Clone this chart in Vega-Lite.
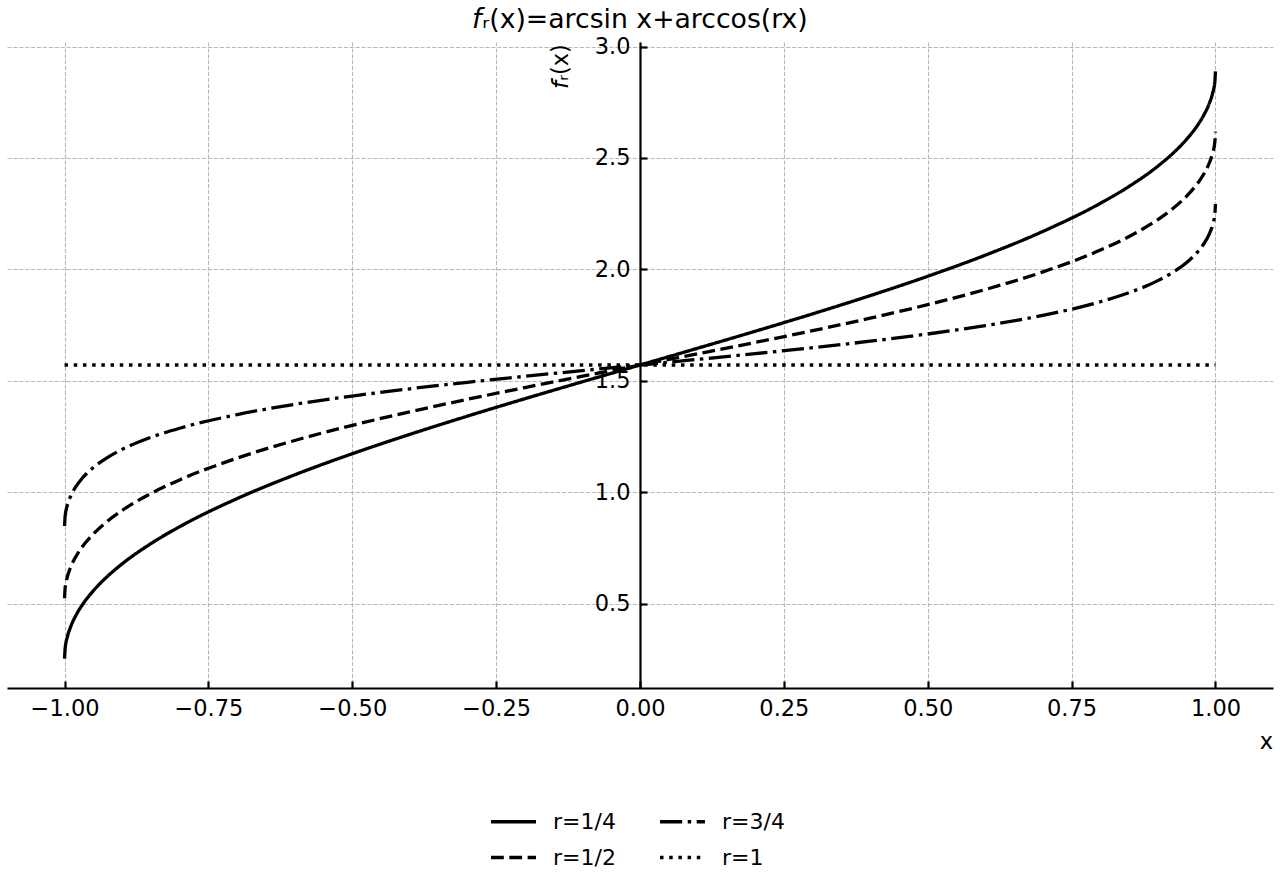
{
  "$schema": "https://vega.github.io/schema/vega-lite/v6.json",
  "width": 1266,
  "height": 646,
  "autosize": {"type": "none"},
  "padding": {"left": 7, "top": 42, "right": 7, "bottom": 192},
  "background": "white",
  "config": {
    "font": "DejaVu Sans",
    "view": {"stroke": null}
  },
  "title": {
    "text": "𝘧ᵣ(x)=arcsin x+arccos(rx)",
    "font": "DejaVu Sans",
    "fontSize": 26.7,
    "fontWeight": "normal",
    "color": "black",
    "anchor": "middle",
    "frame": "group",
    "baseline": "alphabetic",
    "offset": -19
  },
  "data": {
    "values": [
      {"x": -1, "y": 0.2527, "r": "r=1/4"},
      {"x": -0.999, "y": 0.2971, "r": "r=1/4"},
      {"x": -0.995, "y": 0.3516, "r": "r=1/4"},
      {"x": -0.99, "y": 0.3916, "r": "r=1/4"},
      {"x": -0.98, "y": 0.4479, "r": "r=1/4"},
      {"x": -0.97, "y": 0.4905, "r": "r=1/4"},
      {"x": -0.95, "y": 0.5573, "r": "r=1/4"},
      {"x": -0.925, "y": 0.6231, "r": "r=1/4"},
      {"x": -0.9, "y": 0.678, "r": "r=1/4"},
      {"x": -0.85, "y": 0.7689, "r": "r=1/4"},
      {"x": -0.8, "y": 0.8449, "r": "r=1/4"},
      {"x": -0.7, "y": 0.9713, "r": "r=1/4"},
      {"x": -0.6, "y": 1.0779, "r": "r=1/4"},
      {"x": -0.5, "y": 1.1725, "r": "r=1/4"},
      {"x": -0.4, "y": 1.2594, "r": "r=1/4"},
      {"x": -0.3, "y": 1.3412, "r": "r=1/4"},
      {"x": -0.2, "y": 1.4195, "r": "r=1/4"},
      {"x": -0.1, "y": 1.4956, "r": "r=1/4"},
      {"x": 0, "y": 1.5708, "r": "r=1/4"},
      {"x": 0.1, "y": 1.646, "r": "r=1/4"},
      {"x": 0.2, "y": 1.7221, "r": "r=1/4"},
      {"x": 0.3, "y": 1.8004, "r": "r=1/4"},
      {"x": 0.4, "y": 1.8822, "r": "r=1/4"},
      {"x": 0.5, "y": 1.9691, "r": "r=1/4"},
      {"x": 0.6, "y": 2.0637, "r": "r=1/4"},
      {"x": 0.7, "y": 2.1703, "r": "r=1/4"},
      {"x": 0.8, "y": 2.2967, "r": "r=1/4"},
      {"x": 0.85, "y": 2.3727, "r": "r=1/4"},
      {"x": 0.9, "y": 2.4636, "r": "r=1/4"},
      {"x": 0.925, "y": 2.5185, "r": "r=1/4"},
      {"x": 0.95, "y": 2.5843, "r": "r=1/4"},
      {"x": 0.97, "y": 2.6511, "r": "r=1/4"},
      {"x": 0.98, "y": 2.6937, "r": "r=1/4"},
      {"x": 0.99, "y": 2.75, "r": "r=1/4"},
      {"x": 0.995, "y": 2.79, "r": "r=1/4"},
      {"x": 0.999, "y": 2.8445, "r": "r=1/4"},
      {"x": 1, "y": 2.8889, "r": "r=1/4"},

      {"x": -1, "y": 0.5236, "r": "r=1/2"},
      {"x": -0.999, "y": 0.5678, "r": "r=1/2"},
      {"x": -0.995, "y": 0.6209, "r": "r=1/2"},
      {"x": -0.99, "y": 0.6594, "r": "r=1/2"},
      {"x": -0.98, "y": 0.7124, "r": "r=1/2"},
      {"x": -0.97, "y": 0.752, "r": "r=1/2"},
      {"x": -0.95, "y": 0.8125, "r": "r=1/2"},
      {"x": -0.925, "y": 0.8706, "r": "r=1/2"},
      {"x": -0.9, "y": 0.9178, "r": "r=1/2"},
      {"x": -0.85, "y": 0.9938, "r": "r=1/2"},
      {"x": -0.8, "y": 1.055, "r": "r=1/2"},
      {"x": -0.7, "y": 1.153, "r": "r=1/2"},
      {"x": -0.6, "y": 1.232, "r": "r=1/2"},
      {"x": -0.5, "y": 1.2999, "r": "r=1/2"},
      {"x": -0.4, "y": 1.3606, "r": "r=1/2"},
      {"x": -0.3, "y": 1.4167, "r": "r=1/2"},
      {"x": -0.2, "y": 1.4696, "r": "r=1/2"},
      {"x": -0.1, "y": 1.5206, "r": "r=1/2"},
      {"x": 0, "y": 1.5708, "r": "r=1/2"},
      {"x": 0.1, "y": 1.621, "r": "r=1/2"},
      {"x": 0.2, "y": 1.672, "r": "r=1/2"},
      {"x": 0.3, "y": 1.7249, "r": "r=1/2"},
      {"x": 0.4, "y": 1.781, "r": "r=1/2"},
      {"x": 0.5, "y": 1.8417, "r": "r=1/2"},
      {"x": 0.6, "y": 1.9096, "r": "r=1/2"},
      {"x": 0.7, "y": 1.9886, "r": "r=1/2"},
      {"x": 0.8, "y": 2.0866, "r": "r=1/2"},
      {"x": 0.85, "y": 2.1478, "r": "r=1/2"},
      {"x": 0.9, "y": 2.2238, "r": "r=1/2"},
      {"x": 0.925, "y": 2.271, "r": "r=1/2"},
      {"x": 0.95, "y": 2.3291, "r": "r=1/2"},
      {"x": 0.97, "y": 2.3896, "r": "r=1/2"},
      {"x": 0.98, "y": 2.4292, "r": "r=1/2"},
      {"x": 0.99, "y": 2.4822, "r": "r=1/2"},
      {"x": 0.995, "y": 2.5207, "r": "r=1/2"},
      {"x": 0.999, "y": 2.5738, "r": "r=1/2"},
      {"x": 1, "y": 2.618, "r": "r=1/2"},

      {"x": -1, "y": 0.8481, "r": "r=3/4"},
      {"x": -0.999, "y": 0.8916, "r": "r=3/4"},
      {"x": -0.995, "y": 0.9426, "r": "r=3/4"},
      {"x": -0.99, "y": 0.9783, "r": "r=3/4"},
      {"x": -0.98, "y": 1.026, "r": "r=3/4"},
      {"x": -0.97, "y": 1.0602, "r": "r=3/4"},
      {"x": -0.95, "y": 1.1106, "r": "r=3/4"},
      {"x": -0.925, "y": 1.1565, "r": "r=3/4"},
      {"x": -0.9, "y": 1.192, "r": "r=3/4"},
      {"x": -0.85, "y": 1.2461, "r": "r=3/4"},
      {"x": -0.8, "y": 1.287, "r": "r=3/4"},
      {"x": -0.7, "y": 1.3481, "r": "r=3/4"},
      {"x": -0.6, "y": 1.3941, "r": "r=3/4"},
      {"x": -0.5, "y": 1.4316, "r": "r=3/4"},
      {"x": -0.4, "y": 1.464, "r": "r=3/4"},
      {"x": -0.3, "y": 1.493, "r": "r=3/4"},
      {"x": -0.2, "y": 1.52, "r": "r=3/4"},
      {"x": -0.1, "y": 1.5457, "r": "r=3/4"},
      {"x": 0, "y": 1.5708, "r": "r=3/4"},
      {"x": 0.1, "y": 1.5959, "r": "r=3/4"},
      {"x": 0.2, "y": 1.6216, "r": "r=3/4"},
      {"x": 0.3, "y": 1.6486, "r": "r=3/4"},
      {"x": 0.4, "y": 1.6776, "r": "r=3/4"},
      {"x": 0.5, "y": 1.71, "r": "r=3/4"},
      {"x": 0.6, "y": 1.7475, "r": "r=3/4"},
      {"x": 0.7, "y": 1.7935, "r": "r=3/4"},
      {"x": 0.8, "y": 1.8546, "r": "r=3/4"},
      {"x": 0.85, "y": 1.8955, "r": "r=3/4"},
      {"x": 0.9, "y": 1.9496, "r": "r=3/4"},
      {"x": 0.925, "y": 1.9851, "r": "r=3/4"},
      {"x": 0.95, "y": 2.031, "r": "r=3/4"},
      {"x": 0.97, "y": 2.0814, "r": "r=3/4"},
      {"x": 0.98, "y": 2.1156, "r": "r=3/4"},
      {"x": 0.99, "y": 2.1633, "r": "r=3/4"},
      {"x": 0.995, "y": 2.199, "r": "r=3/4"},
      {"x": 0.999, "y": 2.25, "r": "r=3/4"},
      {"x": 1, "y": 2.2935, "r": "r=3/4"},

      {"x": -1, "y": 1.5708, "r": "r=1"},
      {"x": 1, "y": 1.5708, "r": "r=1"}
    ]
  },
  "mark": {"type": "line", "interpolate": "monotone", "color": "black", "strokeWidth": 3.3, "clip": false},
  "encoding": {
    "x": {
      "field": "x",
      "type": "quantitative",
      "scale": {"domain": [-1.1, 1.1], "nice": false, "zero": false},
      "axis": {
        "orient": "bottom",
        "values": [-1, -0.75, -0.5, -0.25, 0, 0.25, 0.5, 0.75, 1],
        "format": ".2f",
        "labelFont": "DejaVu Sans",
        "labelFontSize": 22.5,
        "labelColor": "black",
        "labelPadding": 16,
        "labelFlush": false,
        "labelOverlap": false,
        "domainColor": "black",
        "domainWidth": 2.2,
        "tickColor": "black",
        "tickWidth": 2.2,
        "tickSize": -7,
        "grid": true,
        "gridColor": "#b8b8b8",
        "gridDash": [4.1, 1.8],
        "gridWidth": 1.1,
        "title": "x",
        "titleFont": "DejaVu Sans",
        "titleFontSize": 22.5,
        "titleFontWeight": "normal",
        "titleColor": "black",
        "titleX": 1259,
        "titleY": 53,
        "titleAlign": "center",
        "titleBaseline": "middle",
        "titleAngle": 0
      }
    },
    "y": {
      "field": "y",
      "type": "quantitative",
      "scale": {"domain": [0.1209, 3.0207], "nice": false, "zero": false},
      "axis": {
        "orient": "left",
        "offset": -633,
        "values": [0.5, 1, 1.5, 2, 2.5, 3],
        "format": ".1f",
        "labelFont": "DejaVu Sans",
        "labelFontSize": 22.5,
        "labelColor": "black",
        "labelPadding": 17,
        "labelFlush": false,
        "labelOverlap": false,
        "domainColor": "black",
        "domainWidth": 2.2,
        "tickColor": "black",
        "tickWidth": 2.2,
        "tickSize": -7,
        "grid": true,
        "gridColor": "#b8b8b8",
        "gridDash": [4.1, 1.8],
        "gridWidth": 1.1,
        "title": "𝘧ᵣ(x)",
        "titleFont": "DejaVu Sans",
        "titleFontSize": 22.5,
        "titleFontWeight": "normal",
        "titleColor": "black",
        "titleX": -80,
        "titleY": 24,
        "titleAngle": 270,
        "titleAlign": "center",
        "titleBaseline": "middle"
      }
    },
    "strokeDash": {
      "field": "r",
      "type": "nominal",
      "scale": {
        "domain": ["r=1/4", "r=1/2", "r=3/4", "r=1"],
        "range": [[1, 0], [12.8, 5.5], [22.2, 5.5, 3.5, 5.5], [3.5, 5.7]]
      },
      "legend": {
        "title": null,
        "orient": "none",
        "legendX": 482,
        "legendY": 755,
        "columns": 2,
        "columnPadding": 37,
        "rowPadding": -15,
        "padding": 0,
        "symbolType": "stroke",
        "symbolSize": 2025,
        "symbolStrokeWidth": 3.3,
        "symbolStrokeColor": "black",
        "labelFont": "DejaVu Sans",
        "labelFontSize": 22,
        "labelColor": "black",
        "labelOffset": 15,
        "labelLimit": 0
      }
    }
  }
}
